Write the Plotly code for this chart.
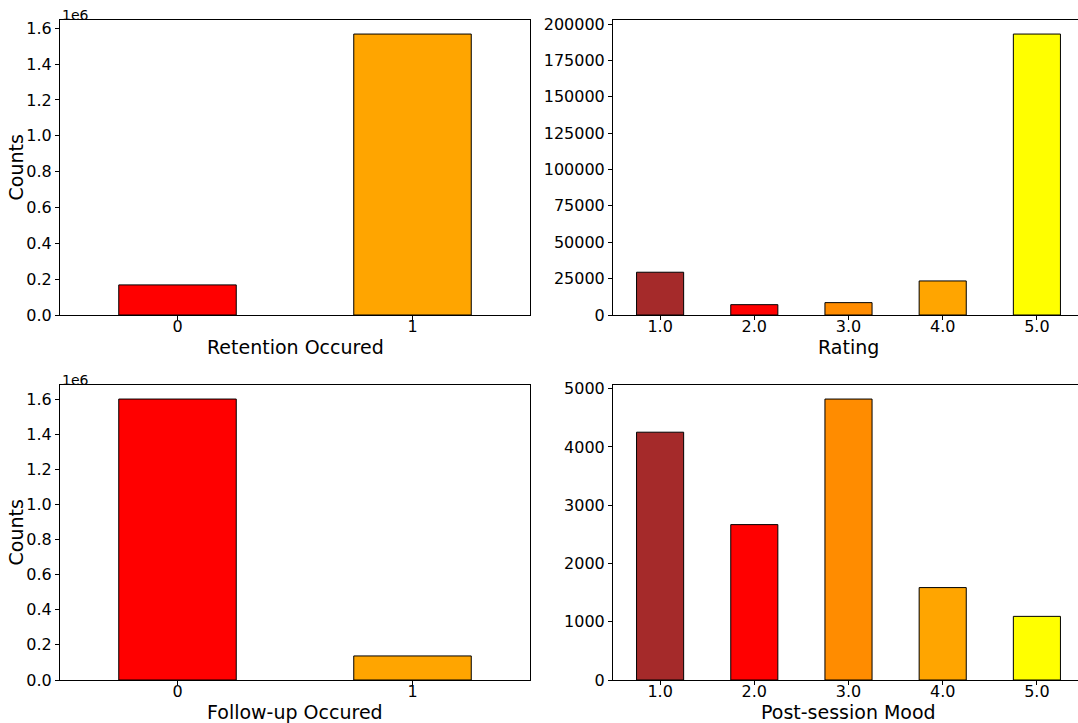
import plotly.graph_objects as go

# ---- data ----
retention_cats = ["0", "1"]
retention_counts = [168000, 1568000]

rating_cats = ["1.0", "2.0", "3.0", "4.0", "5.0"]
rating_counts = [29400, 7100, 8500, 23400, 193100]

followup_cats = ["0", "1"]
followup_counts = [1600000, 137000]

mood_cats = ["1.0", "2.0", "3.0", "4.0", "5.0"]
mood_counts = [4253, 2667, 4822, 1586, 1092]

two_colors = ["#FF0000", "#FFA500"]
five_colors = ["#A52A2A", "#FF0000", "#FF8C00", "#FFA500", "#FFFF00"]

rating_ticks = [0, 25000, 50000, 75000, 100000, 125000, 150000, 175000, 200000]
mood_ticks = [0, 1000, 2000, 3000, 4000, 5000]
mil_ticks = [0, 200000, 400000, 600000, 800000, 1000000, 1200000, 1400000, 1600000]

FONT = "DejaVu Sans"
TICK = 16
TITLE = 19

W, H = 1078, 723
# pixel frames (left, right, top, bottom)
frames = {
    1: (60, 530, 20, 315),
    2: (613, 1078, 20, 315),
    3: (60, 530, 385, 680),
    4: (613, 1078, 385, 680),
}

fig = go.Figure()

panels = [
    (1, retention_cats, retention_counts, two_colors, "Retention Occured", True),
    (2, rating_cats, rating_counts, five_colors, "Rating", False),
    (3, followup_cats, followup_counts, two_colors, "Follow-up Occured", True),
    (4, mood_cats, mood_counts, five_colors, "Post-session Mood", False),
]

layout = dict(
    width=W, height=H, margin=dict(l=0, r=0, t=0, b=0, autoexpand=False),
    paper_bgcolor="white", plot_bgcolor="white", showlegend=False,
    font=dict(family=FONT, color="black"),
)

annotations = []
for idx, cats, vals, cols, xt, mil in panels:
    sfx = "" if idx == 1 else str(idx)
    fig.add_trace(go.Bar(
        x=cats, y=vals, marker=dict(color=cols, line=dict(color="black", width=1)),
        width=0.5, xaxis="x" + sfx, yaxis="y" + sfx, hoverinfo="skip",
    ))
    l, r, t, b = frames[idx]
    n = len(cats)
    if idx in (2, 4):
        unit = 94.2
        xr = [-0.5, -0.5 + (r - l) / unit]
        ymirror = False
        xcenter_px = l + 2.5 * unit
    else:
        xr = [-0.5, n - 0.5]
        ymirror = True
        xcenter_px = (l + r) / 2
    ymax = max(vals) * 1.05
    if mil:
        tv = mil_ticks
        tt = [f"{v/1e6:.1f}" for v in tv]
    elif idx == 2:
        tv = rating_ticks
        tt = [str(v) for v in tv]
    else:
        tv = mood_ticks
        tt = [str(v) for v in tv]
    layout["xaxis" + sfx] = dict(
        domain=[l / W, r / W], anchor="y" + sfx, type="category", automargin=False,
        range=xr, showline=True, linecolor="black", linewidth=1, mirror=True,
        ticks="outside", ticklen=4, tickcolor="black", showgrid=False, zeroline=False,
        tickfont=dict(size=TICK, family=FONT), ticklabelstandoff=-7,
        fixedrange=True,
    )
    layout["yaxis" + sfx] = dict(
        domain=[1 - b / H, 1 - t / H], anchor="x" + sfx, automargin=False,
        range=[0, ymax], showline=True, linecolor="black", linewidth=1, mirror=ymirror,
        ticks="outside", ticklen=4, tickcolor="black", showgrid=False, zeroline=False,
        tickmode="array", tickvals=tv, ticktext=tt,
        tickfont=dict(size=TICK, family=FONT), fixedrange=True,
    )
    # x-axis title
    annotations.append(dict(
        text=xt, xref="paper", yref="paper", x=xcenter_px / W, y=1 - (b + 32) / H,
        xanchor="center", yanchor="middle", showarrow=False,
        font=dict(size=TITLE, family=FONT, color="black"),
    ))
    if mil:
        annotations.append(dict(
            text="Counts", xref="paper", yref="paper", x=15 / W, y=1 - ((t + b) / 2) / H,
            xanchor="center", yanchor="middle", showarrow=False, textangle=-90,
            font=dict(size=TITLE, family=FONT, color="black"),
        ))
        annotations.append(dict(
            text="1e6", xref="paper", yref="paper", x=l / W, y=1 - t / H,
            xanchor="left", yanchor="bottom", showarrow=False,
            font=dict(size=14, family=FONT, color="black"), yshift=-5,
        ))

layout["annotations"] = annotations
fig.update_layout(**layout)
fig.write_html(
    "out.html",
    config={"displayModeBar": False, "staticPlot": True},
    post_script="document.body.style.margin='0';document.body.style.overflow='hidden';",
)
